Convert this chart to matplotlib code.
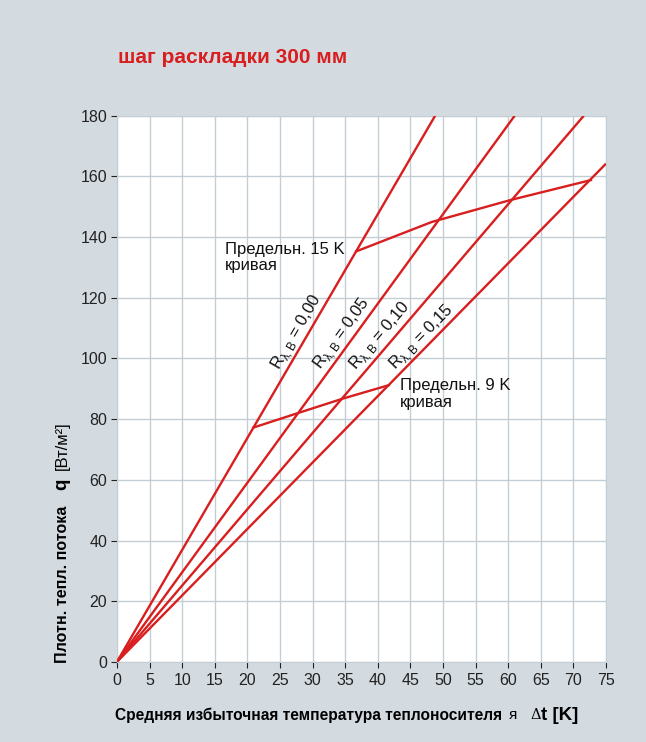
import matplotlib
matplotlib.use("Agg")
import matplotlib.pyplot as plt
import numpy as np

plt.rcParams["font.family"] = ["Liberation Sans", "DejaVu Sans"]

BG = "#d3dbe1"
RED = "#d81e1e"
GRID = "#c3cdd4"

# Characteristic lines: end points (x, y)
r_labels = ["0,00", "0,05", "0,10", "0,15"]
line_x_end = [48.8, 61.0, 71.6, 75.0]
line_y_end = [180, 180, 180, 164.2]

# Limit curves through the line intersections
limit15_x = [36.7, 48.3, 60.5, 72.7]
limit15_y = [135.3, 145.0, 152.3, 158.8]
limit9_x = [20.9, 27.9, 34.7, 41.7]
limit9_y = [77.2, 82.1, 86.8, 91.2]

# Label positions for R values (data coords)
label_x = [27.6, 34.6, 40.4, 46.8]
label_y = [108.5, 108.0, 107.5, 107.0]

fig = plt.figure(figsize=(6.46, 7.42), dpi=100, facecolor=BG)
ax = fig.add_axes([0.181, 0.108, 0.757, 0.736])
ax.set_facecolor("white")

for xe, ye in zip(line_x_end, line_y_end):
    ax.plot([0, xe], [0, ye], color=RED, lw=1.7, solid_capstyle="butt", zorder=3)

ax.plot(limit15_x, limit15_y, color=RED, lw=1.7, zorder=3)
ax.plot(limit9_x, limit9_y, color=RED, lw=1.7, zorder=3)

ax.set_xlim(0, 75)
ax.set_ylim(0, 180)
ax.set_xticks(np.arange(0, 76, 5))
ax.set_yticks(np.arange(0, 181, 20))
ax.grid(True, color=GRID, lw=1.0)
ax.set_axisbelow(True)
for s in ax.spines.values():
    s.set_color(GRID)
ax.tick_params(axis="both", labelsize=11.5, colors="#222222", length=4, width=0.8,
               pad=3)
ax.tick_params(axis="x", pad=4)

# rotated R labels along the lines
fig.canvas.draw()
for lab, xe, ye, lx, ly in zip(r_labels, line_x_end, line_y_end, label_x, label_y):
    p0 = ax.transData.transform((0, 0))
    p1 = ax.transData.transform((xe, ye))
    ang = np.degrees(np.arctan2(p1[1] - p0[1], p1[0] - p0[0]))
    ax.text(lx, ly, r"R$_{\mathregular{\lambda,B}}$ = " + lab, rotation=ang,
            rotation_mode="anchor", ha="center", va="center", fontsize=12,
            color="#111111", zorder=4)

ax.text(16.6, 138.5, "Предельн. 15 K\nкривая", fontsize=12, ha="left", va="top",
        linespacing=1.15, color="#111111", zorder=4)
ax.text(43.4, 93.5, "Предельн. 9 K\nкривая", fontsize=12, ha="left", va="top",
        linespacing=1.15, color="#111111", zorder=4)

fig.text(0.183, 0.922, "шаг раскладки 300 мм", color=RED, fontsize=15,
         fontweight="bold", ha="left", va="center")

fig.text(0.178, 0.036, "Средняя избыточная температура теплоносителя", fontsize=11.2,
         fontweight="bold", ha="left", va="center")
fig.text(0.788, 0.036, "я", fontsize=11, ha="left", va="center")
fig.text(0.821, 0.036, "Δ", fontsize=10.5, ha="left", va="center",
         family="DejaVu Serif")
fig.text(0.838, 0.036, "t [K]", fontsize=13.5, fontweight="bold", ha="left", va="center")

fig.text(0.096, 0.106, "Плотн. тепл. потока", fontsize=11.5, fontweight="bold",
         rotation=90, ha="center", va="bottom")
fig.text(0.096, 0.340, "q", fontsize=13.5, fontweight="bold", rotation=90,
         ha="center", va="bottom")
fig.text(0.096, 0.367, "[Вт/м²]", fontsize=12, rotation=90, ha="center", va="bottom")

fig.savefig("out.png", dpi=100, facecolor=BG)
